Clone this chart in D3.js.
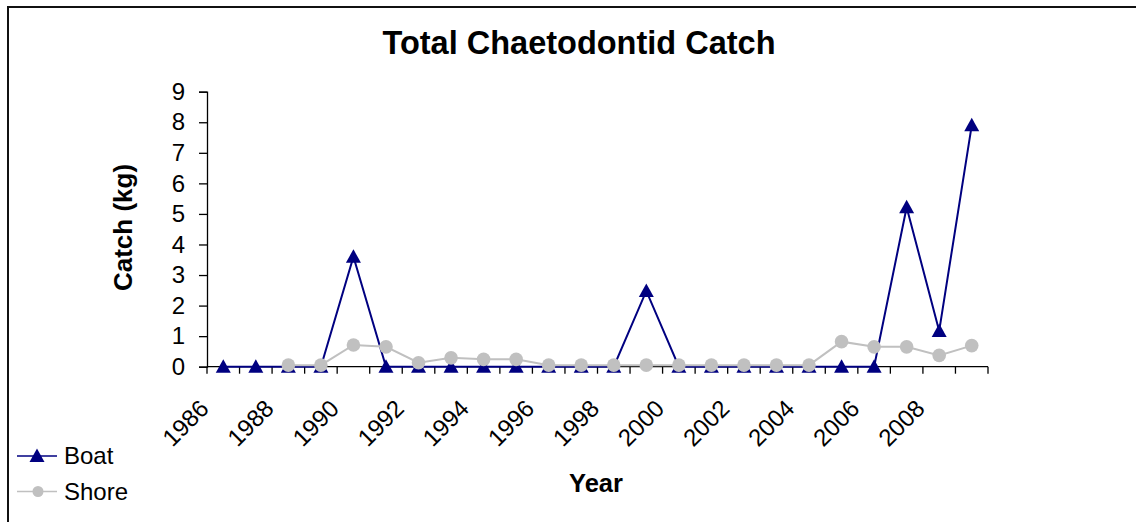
<!DOCTYPE html>
<html><head><meta charset="utf-8">
<script src="https://cdn.jsdelivr.net/npm/d3@7"></script>
<style>
body{margin:0;background:#fff;}
text{font-family:"Liberation Sans",Arial,sans-serif;fill:#000;}
</style></head>
<body><svg id="c" width="1136" height="522"></svg>
<script>
const years = d3.range(1986, 2010).map(String);
const boat = [0,0,0,0,3.6,0,0,0,0,0,0,0,0,2.48,0,0,0,0,0,0,0,5.22,1.17,7.9];
const shore = [null,null,0.05,0.05,0.71,0.65,0.13,0.29,0.24,0.24,0.05,0.05,0.05,0.05,0.05,0.05,0.05,0.05,0.05,0.82,0.65,0.65,0.37,0.69];
const yTicks = [0,1,2,3,4,5,6,7,8,9];
const xLabels = years.filter((d,i)=>i%2===0);
const title = "Total Chaetodontid Catch";
const yTitle = "Catch (kg)";
const xTitle = "Year";
const seriesNames = ["Boat","Shore"];
const colors = {Boat:"#000080", Shore:"#C0C0C0"};

const svg = d3.select("#c");
svg.append("path").attr("d","M8,530 L8,7 L1140,7").attr("fill","none").attr("stroke","#111").attr("stroke-width",2);

const x0 = 207, x1 = 988, yTop = 91.7, yBot = 366.7;
const x = d3.scaleBand().domain(years).range([x0,x1]);
const y = d3.scaleLinear().domain([0,9]).range([yBot,yTop]);
const cx = d => x(d)+x.bandwidth()/2;

const yAx = svg.append("g").attr("transform",`translate(${x0},0)`)
  .call(d3.axisLeft(y).tickValues(yTicks).tickSize(8).tickPadding(14).tickFormat(d3.format("d")));
yAx.select(".domain").attr("stroke","#000").attr("stroke-width",1.3);
yAx.selectAll(".tick line").attr("stroke","#000").attr("stroke-width",1.3);
yAx.selectAll(".tick text").attr("font-size",24).attr("font-family","Liberation Sans, Arial").attr("fill","#000");

const xAx = svg.append("g").attr("transform",`translate(0,${yBot})`);
xAx.append("line").attr("x1",x0).attr("x2",x1).attr("stroke","#000").attr("stroke-width",1.3);
const bounds = years.map(d=>x(d)).concat([x1]);
xAx.selectAll("line.t").data(bounds).join("line").attr("class","t")
  .attr("x1",d=>d).attr("x2",d=>d).attr("y1",0).attr("y2",7).attr("stroke","#000").attr("stroke-width",1.3);
svg.append("g").selectAll("text").data(xLabels).join("text")
  .attr("transform",d=>`translate(${cx(d)-19},404) rotate(-45)`)
  .attr("text-anchor","end").attr("dy","0.35em").attr("font-size",24).text(d=>d);

const line = d3.line().defined(d=>d.v!=null).x(d=>cx(d.y)).y(d=>y(d.v));
const boatData = years.map((yy,i)=>({y:yy,v:boat[i]}));
const shoreData = years.map((yy,i)=>({y:yy,v:shore[i]}));
const tri = (px,py)=>`M${px},${py-7.5}L${px+7.5},${py+6}L${px-7.5},${py+6}Z`;

svg.append("path").datum(boatData).attr("d",line).attr("fill","none").attr("stroke",colors.Boat).attr("stroke-width",2);
svg.append("g").selectAll("path").data(boatData).join("path")
  .attr("d",d=>tri(cx(d.y),y(d.v))).attr("fill",colors.Boat);
svg.append("path").datum(shoreData).attr("d",line).attr("fill","none").attr("stroke",colors.Shore).attr("stroke-width",2);
svg.append("g").selectAll("circle").data(shoreData.filter(d=>d.v!=null)).join("circle")
  .attr("cx",d=>cx(d.y)).attr("cy",d=>y(d.v)).attr("r",6.8).attr("fill",colors.Shore);

svg.append("text").attr("x",579).attr("y",54).attr("text-anchor","middle").attr("font-size",32.5).attr("font-weight","bold").text(title);
svg.append("text").attr("transform","translate(132,227.5) rotate(-90)").attr("text-anchor","middle").attr("font-size",26).attr("font-weight","bold").text(yTitle);
svg.append("text").attr("x",596).attr("y",491.5).attr("text-anchor","middle").attr("font-size",25.5).attr("font-weight","bold").text(xTitle);

const lg = svg.append("g");
const ly = [456, 491.5];
seriesNames.forEach((s,i)=>{
  lg.append("line").attr("x1",17).attr("x2",57).attr("y1",ly[i]).attr("y2",ly[i]).attr("stroke",colors[s]).attr("stroke-width",1.5);
  if(s==="Boat") lg.append("path").attr("d",tri(37,ly[i])).attr("fill",colors[s]);
  else lg.append("circle").attr("cx",38).attr("cy",ly[i]).attr("r",5.5).attr("fill",colors[s]);
  lg.append("text").attr("x",64).attr("y",ly[i]+8).attr("font-size",24).text(s);
});
</script></body></html>
